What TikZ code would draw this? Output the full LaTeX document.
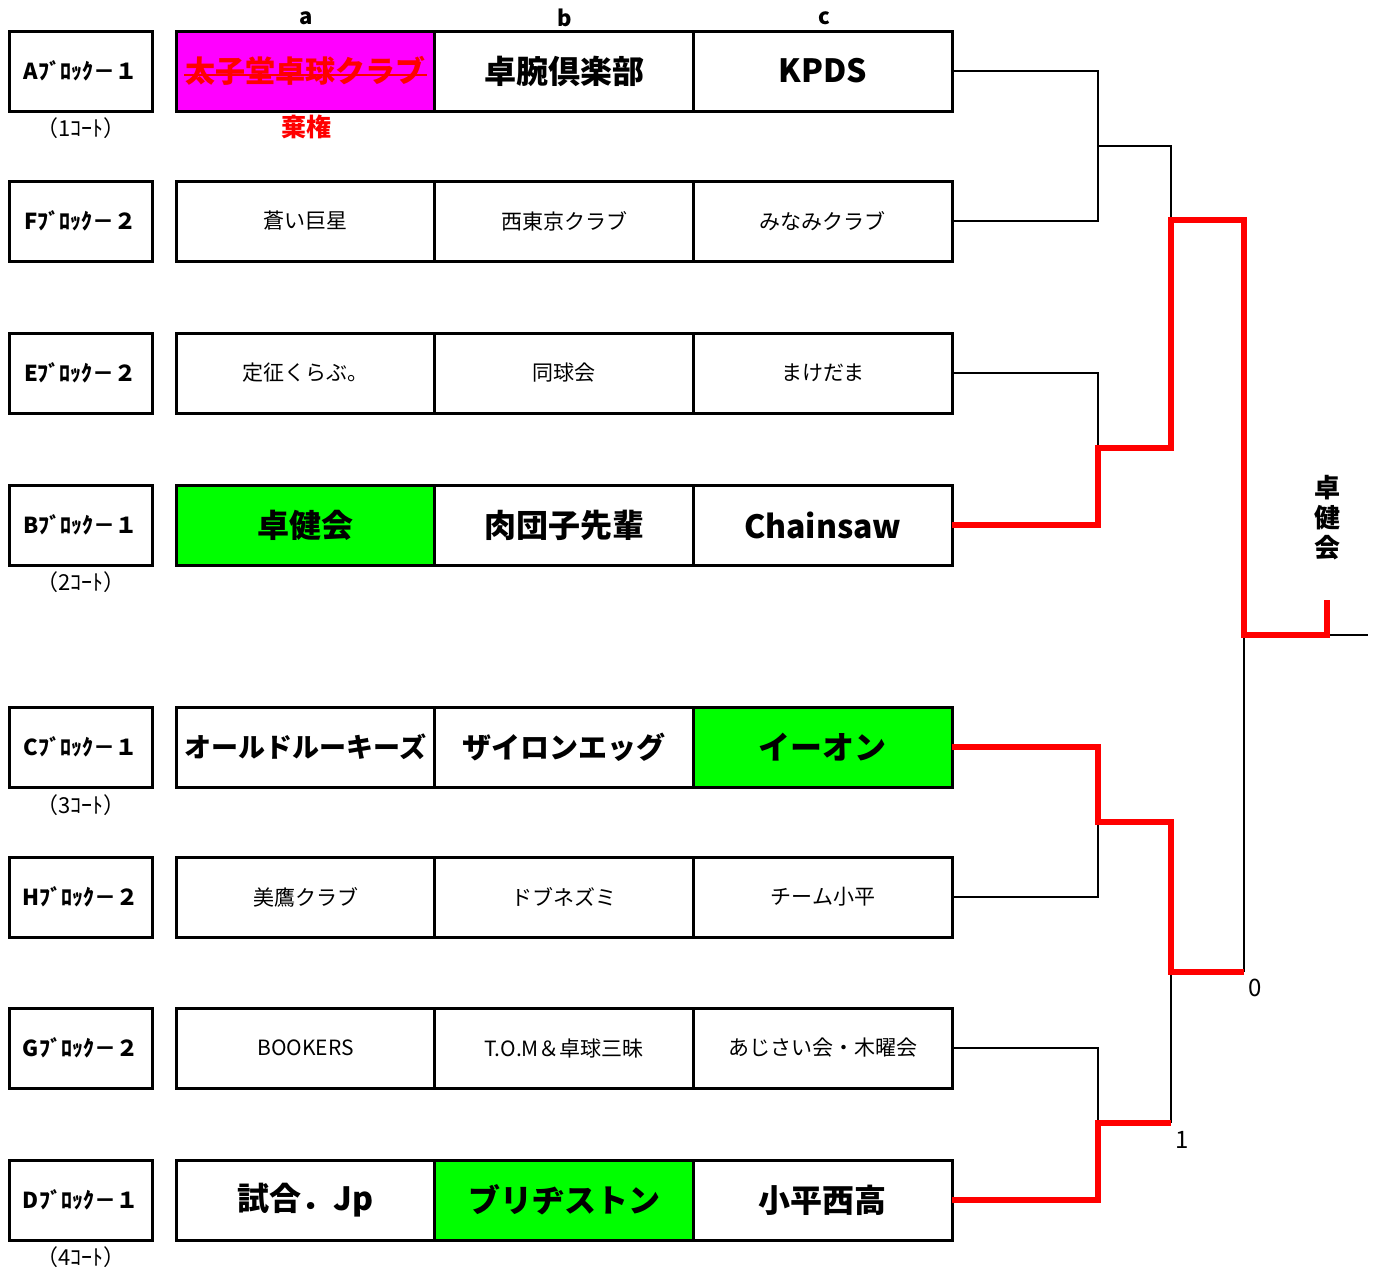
\documentclass[tikz,border=0pt]{standalone}
\usepackage{fontspec}
\setmainfont{Noto Sans CJK JP}
\usepackage{tikz}
\usetikzlibrary{positioning}
\definecolor{pink}{RGB}{255,0,255}
\definecolor{lime}{RGB}{0,255,0}

\begin{document}
\begin{tikzpicture}[x=1pt,y=-1pt]
        \tikzset{block/.style = {shape=rectangle,draw,line width=3pt,minimum width=143pt,minimum height=80pt,inner sep=0pt,font=\fontsize{22}{26}\selectfont\bfseries},
                 team/.style = {shape=rectangle,draw,line width=3pt,minimum width=258.7pt,minimum height=80pt,inner sep=0pt,outer sep=0pt},
                 big/.style = {font=\fontsize{32}{38}\selectfont\bfseries},
                 thin/.style = {font=\fontsize{21}{25}\selectfont},
                 court/.style = {font=\fontsize{22}{26}\selectfont},
                 head/.style = {font=\fontsize{22}{26}\selectfont\bfseries},
                 line/.style = {line width=2.8pt},
                 win/.style = {line width=6pt,red}}
        \useasboundingbox (0,0) rectangle (1377,1272);
        % column heads
        \node[head] (ha) at (306,18) {a};
        \node[head] (hb) at (565,18) {b};
        \node[head] (hc) at (824,18) {c};
        % blocks
        \node[block] (A) at (80.5,71) {Aﾌﾞﾛｯｸ－１};
        \node[block] (F) at (80.5,221) {Fﾌﾞﾛｯｸ－２};
        \node[block] (E) at (80.5,373) {Eﾌﾞﾛｯｸ－２};
        \node[block] (B) at (80.5,525) {Bﾌﾞﾛｯｸ－１};
        \node[block] (C) at (80.5,747) {Cﾌﾞﾛｯｸ－１};
        \node[block] (H) at (80.5,897) {Hﾌﾞﾛｯｸ－２};
        \node[block] (G) at (80.5,1048) {Gﾌﾞﾛｯｸ－２};
        \node[block] (D) at (80.5,1200) {Dﾌﾞﾛｯｸ－１};
        % courts
        \node[court] (k1) at (81,128) {（1ｺｰﾄ）};
        \node[court] (k2) at (81,582) {（2ｺｰﾄ）};
        \node[court] (k3) at (81,805) {（3ｺｰﾄ）};
        \node[court] (k4) at (81,1257) {（4ｺｰﾄ）};
        % teams
        \node[team,big,fill=pink,text=red,font=\fontsize{30}{36}\selectfont\bfseries] (Aa) at (305.5,71) {太子堂卓球クラブ};
        \node[team,big] (Ab) [right=0pt of Aa] {卓腕倶楽部};
        \node[team,big] (Ac) [right=0pt of Ab] {KPDS};
        \node[team,thin] (Fa) at (305.5,221) {蒼い巨星};
        \node[team,thin] (Fb) [right=0pt of Fa] {西東京クラブ};
        \node[team,thin] (Fc) [right=0pt of Fb] {みなみクラブ};
        \node[team,thin] (Ea) at (305.5,373) {定征くらぶ。};
        \node[team,thin] (Eb) [right=0pt of Ea] {同球会};
        \node[team,thin] (Ec) [right=0pt of Eb] {まけだま};
        \node[team,big,fill=lime] (Ba) at (305.5,525) {卓健会};
        \node[team,big] (Bb) [right=0pt of Ba] {肉団子先輩};
        \node[team,big] (Bc) [right=0pt of Bb] {Chainsaw};
        \node[team,big,font=\fontsize{27}{32}\selectfont\bfseries] (Ca) at (305.5,747) {オールドルーキーズ};
        \node[team,big,font=\fontsize{29}{34}\selectfont\bfseries] (Cb) [right=0pt of Ca] {ザイロンエッグ};
        \node[team,big,fill=lime] (Cc) [right=0pt of Cb] {イーオン};
        \node[team,thin] (Ha) at (305.5,897) {美鷹クラブ};
        \node[team,thin] (Hb) [right=0pt of Ha] {ドブネズミ};
        \node[team,thin] (Hc) [right=0pt of Hb] {チーム小平};
        \node[team,thin] (Ga) at (305.5,1048) {BOOKERS};
        \node[team,thin] (Gb) [right=0pt of Ga] {T.O.M＆卓球三昧};
        \node[team,thin] (Gc) [right=0pt of Gb] {あじさい会・木曜会};
        \node[team,big] (Da) at (305.5,1200) {試合．Jp};
        \node[team,big,fill=lime] (Db) [right=0pt of Da] {ブリヂストン};
        \node[team,big] (Dc) [right=0pt of Db] {小平西高};
        % withdrawn
        \draw[red,line width=1.5pt] ([xshift=-121.5pt,yshift=-4pt]Aa.center) -- ([xshift=121.5pt,yshift=-4pt]Aa.center);
        \node[text=red,font=\fontsize{25}{30}\selectfont\bfseries] (kiken) at (306,127) {棄権};
        % bracket joins
        \coordinate (q1) at (1098,146);
        \coordinate (q2) at (1098,448);
        \coordinate (q3) at (1098,822);
        \coordinate (q4) at (1098,1123);
        \coordinate (s1) at (1171,220);
        \coordinate (s2) at (1171,972);
        \coordinate (s3) at (1171,1123);
        \coordinate (f0) at (1244,972);
        \coordinate (f) at (1244,635);
        \coordinate (w) at (1327,635);
        \coordinate (wt) at (1327,600);
        \coordinate (out) at (1368,635);
        % black lines
        \draw[line] (Ac.east) -| (q1);
        \draw[line] (Fc.east) -| (q1);
        \draw[line] (q1) -| (s1);
        \draw[line] (Ec.east) -| (q2);
        \draw[line] (Hc.east) -| (q3);
        \draw[line] (Gc.east) -| (q4);
        \draw[line] (s3) -- (s2);
        \draw[line] (f0) -- (f);
        \draw[line] (w) -- (out);
        % red lines
        \draw[win] (Bc.east) -| (q2) -| (s1) -| (f) -- (w) -- (wt);
        \draw[win] (Cc.east) -| (q3) -| (s2) -- (f0);
        \draw[win] (Dc.east) -| (q4) -- (s3);
        % scores and winner
        \node[font=\fontsize{24}{28}\selectfont] (n0) at (1255,988) {0};
        \node[font=\fontsize{24}{28}\selectfont] (n1) at (1182,1140) {1};
        \node[align=center,font=\fontsize{26}{30}\selectfont\bfseries] (champ) at (1327,518) {卓\\健\\会};
        \end{tikzpicture}
\end{document}
